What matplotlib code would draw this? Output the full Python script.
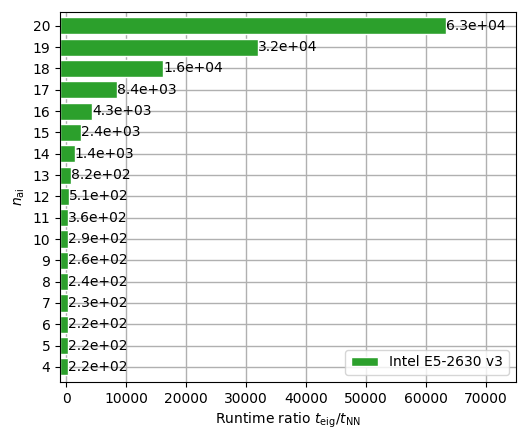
import numpy as np
import matplotlib
matplotlib.use('Agg')
import matplotlib.pyplot as plt

# data
n_ai = [4, 5, 6, 7, 8, 9, 10, 11, 12, 13, 14, 15, 16, 17, 18, 19, 20]
ratio = [220, 220, 220, 230, 240, 260, 290, 360, 510, 820,
         1400, 2400, 4300, 8400, 16200, 32000, 63300]
label = 'Intel E5-2630 v3'

x_lo, x_hi = -1000, 75000

fig, ax = plt.subplots(figsize=(5.28, 4.42), dpi=100)
# bars start at the left edge of the axes, as in the original
widths = [r - x_lo for r in ratio]
ax.barh(n_ai, widths, left=x_lo, height=0.8, color='tab:green',
        edgecolor='white', label=label)
for n, r in zip(n_ai, ratio):
    ax.text(r, n, f'{r:.1e}', va='center', ha='left', fontsize=10)

ax.set_yticks(n_ai)
ax.set_xlim(x_lo, x_hi)
ax.set_ylim(3.3, 20.65)
ax.set_axisbelow(True)
ax.grid(True, color='#b0b0b0', linewidth=1)
ax.set_xlabel(r'Runtime ratio $t_\mathrm{eig}/t_\mathrm{NN}$')
ax.set_ylabel(r'$n_\mathrm{ai}$')
ax.legend(loc='lower right')

fig.subplots_adjust(left=0.114, right=0.977, top=0.973, bottom=0.136)
fig.savefig('out.png', dpi=100)
